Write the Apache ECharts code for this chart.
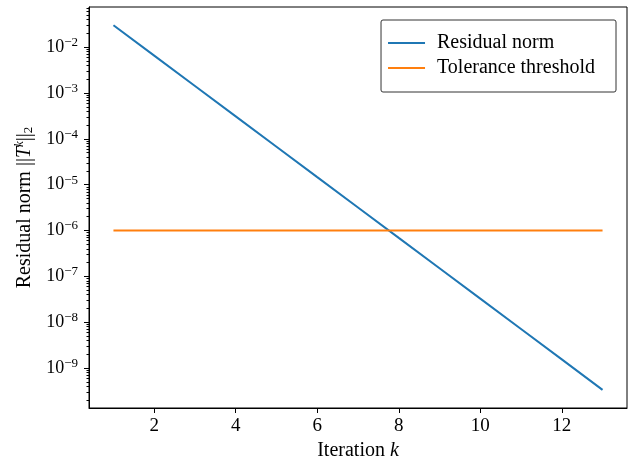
<!doctype html>
<html>
    <head>
        <meta charset="utf-8">
        <style>
            html, body { margin: 0; padding: 0; background: #fff; }
            #main { width: 637px; height: 460px; }
        </style>
    </head>
    <body>
        <div id="main"></div>
        <script src="https://cdn.jsdelivr.net/npm/echarts@6/dist/echarts.min.js"></script>
        <script>
            var iterations = [1, 2, 3, 4, 5, 6, 7, 8, 9, 10, 11, 12, 13];
            var residualNorm = [3.02e-2, 6.56e-3, 1.43e-3, 3.10e-4, 6.73e-5, 1.46e-5, 3.18e-6,
                6.90e-7, 1.50e-7, 3.26e-8, 7.08e-9, 1.54e-9, 3.34e-10];
            var tolerance = [1e-6, 1e-6, 1e-6, 1e-6, 1e-6, 1e-6, 1e-6,
                1e-6, 1e-6, 1e-6, 1e-6, 1e-6, 1e-6];
            var xTicks = [2, 4, 6, 8, 10, 12];
            var yTicks = [1e-9, 1e-8, 1e-7, 1e-6, 1e-5, 1e-4, 1e-3, 1e-2];
            // minor ticks at 2..9 x 10^e, like matplotlib's log locator
            var yMinorTicks = [];
            for (var e = -10; e <= -2; e++) {
                for (var m = 2; m <= 9; m++) {
                    yMinorTicks.push(m * Math.pow(10, e));
                }
            }

            var font = '"Liberation Serif", "DejaVu Serif", serif';
            var yMin = 1.34e-10, yMax = 7.55e-2;

            var chart = echarts.init(document.getElementById('main'));

            function pair(xs, ys) {
                return xs.map(function (x, i) { return [x, ys[i]]; });
            }

            chart.setOption({
                animation: false,
                grid: {
                    left: 89, right: 10, top: 7, bottom: 52,
                    outerBoundsMode: 'none',
                    containLabel: false,
                    show: true,
                    borderColor: '#000',
                    borderWidth: 1,
                    backgroundColor: 'transparent'
                },
                legend: {
                    right: 21, top: 20,
                    orient: 'vertical',
                    icon: 'rect',
                    itemWidth: 37,
                    itemHeight: 2,
                    itemGap: 5,
                    padding: [13, 21, 14, 7],
                    borderColor: '#333',
                    borderWidth: 1,
                    borderRadius: 2,
                    textStyle: { fontFamily: font, fontSize: 20, color: '#000', padding: [0, 0, 0, 7] },
                    data: ['Residual norm', 'Tolerance threshold']
                },
                xAxis: {
                    type: 'value',
                    min: 0.4, max: 13.6,
                    name: 'Iteration {i|k}',
                    nameLocation: 'middle',
                    nameGap: 33,
                    nameTextStyle: {
                        fontFamily: font, fontSize: 20, color: '#000',
                        rich: { i: { fontFamily: font, fontSize: 20, fontStyle: 'italic', color: '#000' } }
                    },
                    axisLine: { show: true, lineStyle: { color: '#000', width: 1 } },
                    axisTick: { show: true, length: 5, customValues: xTicks, lineStyle: { color: '#000' } },
                    axisLabel: { customValues: xTicks, fontFamily: font, fontSize: 19, color: '#000', margin: 9 },
                    splitLine: { show: false }
                },
                yAxis: [{
                    type: 'log',
                    logBase: 10,
                    min: yMin, max: yMax,
                    name: 'Residual norm ||{i|T}{sup|k}||{sub|2}',
                    nameLocation: 'middle',
                    nameRotate: 90,
                    nameGap: 53,
                    nameTextStyle: {
                        fontFamily: font, fontSize: 20, color: '#000',
                        rich: {
                            i: { fontFamily: font, fontSize: 20, fontStyle: 'italic', color: '#000' },
                            sup: { fontFamily: font, fontSize: 13, fontStyle: 'italic', color: '#000', verticalAlign: 'bottom', padding: [0, 0, 9, 0] },
                            sub: { fontFamily: font, fontSize: 13, color: '#000', verticalAlign: 'top', padding: [9, 0, 0, 0] }
                        }
                    },
                    axisLine: { show: true, lineStyle: { color: '#000', width: 1 } },
                    axisTick: { show: true, length: 5, customValues: yTicks, lineStyle: { color: '#000' } },
                    axisLabel: {
                        customValues: yTicks,
                        margin: 11,
                        formatter: function (v) {
                            var p = Math.round(Math.log10(v));
                            return '{b|10}{s|\u2212' + Math.abs(p) + '}';
                        },
                        rich: {
                            b: { fontFamily: font, fontSize: 18, color: '#000' },
                            s: { fontFamily: font, fontSize: 13, color: '#000', verticalAlign: 'bottom', padding: [0, 0, 9, 0] }
                        }
                    },
                    splitLine: { show: false }
                }, {
                    type: 'log',
                    logBase: 10,
                    min: yMin, max: yMax,
                    position: 'left',
                    axisLine: { show: false },
                    axisTick: { show: true, length: 2.5, customValues: yMinorTicks, lineStyle: { color: '#000' } },
                    axisLabel: { show: false },
                    splitLine: { show: false }
                }],
                series: [{
                    name: 'Residual norm',
                    type: 'line',
                    data: pair(iterations, residualNorm),
                    symbol: 'none',
                    lineStyle: { color: '#1f77b4', width: 2 },
                    itemStyle: { color: '#1f77b4' }
                }, {
                    name: 'Tolerance threshold',
                    type: 'line',
                    data: pair(iterations, tolerance),
                    symbol: 'none',
                    lineStyle: { color: '#ff7f0e', width: 2 },
                    itemStyle: { color: '#ff7f0e' }
                }]
            });

            window.onresize = chart.resize;
        </script>
    </body>
</html>
